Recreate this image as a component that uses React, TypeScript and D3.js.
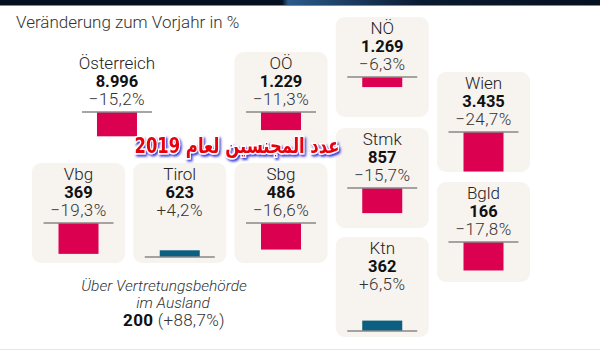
import { useEffect, useRef } from "react";
import * as d3 from "d3";

// Einbürgerungen 2019, nach Bundesland
const regions = ["Österreich", "OÖ", "NÖ", "Wien", "Stmk", "Bgld", "Vbg", "Tirol", "Sbg", "Ktn"];
const counts = [8996, 1229, 1269, 3435, 857, 166, 369, 623, 486, 362];
const changes = [-15.2, -11.3, -6.3, -24.7, -15.7, -17.8, -19.3, 4.2, -16.6, 6.5];

const abroadLabel = ["Über Vertretungsbehörde", "im Ausland"];
const abroadCount = 200;
const abroadChange = 88.7;

const title = "Veränderung zum Vorjahr in %";
const overlay = "عدد المجنسين لعام 2019";

// tile-map layout: column index and top of tile (px)
const layout: Record<string, { col: number; top: number; card: boolean }> = {
  "Österreich": { col: 0.38, top: 52, card: false },
  "OÖ": { col: 2, top: 52, card: true },
  "NÖ": { col: 3, top: 17, card: true },
  "Wien": { col: 4, top: 72, card: true },
  "Stmk": { col: 3, top: 128, card: true },
  "Bgld": { col: 4, top: 182, card: true },
  "Vbg": { col: 0, top: 163, card: true },
  "Tirol": { col: 1, top: 163, card: true },
  "Sbg": { col: 2, top: 163, card: true },
  "Ktn": { col: 3, top: 237, card: true },
};

const de = d3.formatLocale({ decimal: ",", thousands: ".", grouping: [3], currency: ["", " €"], minus: "\u2212" });
const fmtCount = de.format(",d");
const fmtPct = de.format("+.1f");

function App() {
  const ref = useRef<SVGSVGElement>(null);

  useEffect(() => {
    const width = 600;
    const height = 350;
    const cardW = 93;
    const cardH = 100;
    const font = "Roboto, 'Open Sans', sans-serif";

    const x = d3.scaleLinear().domain([0, 4]).range([32, 437]);
    const bar = d3.scaleLinear().domain([0, 25]).range([0, 40]);

    const svg = d3.select(ref.current);
    svg.selectAll("*").remove();
    svg.attr("width", width).attr("height", height).attr("viewBox", [0, 0, width, height]);

    svg.append("rect").attr("width", width).attr("height", height).attr("fill", "#fff");

    // top band
    const defs = svg.append("defs");
    const grad = defs.append("linearGradient").attr("id", "band");
    grad.append("stop").attr("offset", "0%").attr("stop-color", "#04101f");
    grad.append("stop").attr("offset", "47%").attr("stop-color", "#04101f");
    grad.append("stop").attr("offset", "48%").attr("stop-color", "#2a5a8c");
    grad.append("stop").attr("offset", "70%").attr("stop-color", "#0a1a30");
    grad.append("stop").attr("offset", "100%").attr("stop-color", "#04101f");
    svg.append("rect").attr("width", width).attr("height", 5).attr("fill", "url(#band)");
    svg.append("rect").attr("y", 5).attr("width", width).attr("height", 1).attr("fill", "#888");
    svg.append("rect").attr("y", 349).attr("width", width).attr("height", 1).attr("fill", "#e6e6e6");

    svg.append("text")
      .attr("x", 16).attr("y", 28)
      .attr("font-family", font).attr("font-size", 17).attr("font-weight", 300).attr("fill", "#333")
      .text(title);

    const data = regions.map((r, i) => ({ name: r, count: counts[i], change: changes[i], ...layout[r] }));

    const tiles = svg.append("g")
      .selectAll("g")
      .data(data)
      .join("g")
      .attr("transform", d => `translate(${x(d.col)},${d.top})`);

    tiles.filter(d => d.card)
      .append("rect")
      .attr("width", cardW).attr("height", cardH).attr("rx", 9)
      .attr("fill", "#f7f3ef");

    const cx = cardW / 2;
    tiles.append("text")
      .attr("x", cx).attr("y", 17).attr("text-anchor", "middle")
      .attr("font-family", font).attr("font-size", 17).attr("font-weight", 300).attr("fill", "#222")
      .text(d => d.name);
    tiles.append("text")
      .attr("x", cx).attr("y", 35).attr("text-anchor", "middle")
      .attr("font-family", font).attr("font-size", 16.5).attr("font-weight", 700).attr("fill", "#111")
      .text(d => fmtCount(d.count));
    tiles.append("text")
      .attr("x", cx).attr("y", 53).attr("text-anchor", "middle")
      .attr("font-family", font).attr("font-size", 17).attr("font-weight", 300).attr("fill", "#333")
      .attr("letter-spacing", 0.4)
      .text(d => fmtPct(d.change) + "%");

    const zeroY = (d: { change: number }) => (d.change < 0 ? 60 : 94);

    tiles.append("rect")
      .attr("x", cx - 20).attr("width", 40)
      .attr("y", d => (d.change < 0 ? zeroY(d) : zeroY(d) - bar(d.change)))
      .attr("height", d => bar(Math.abs(d.change)))
      .attr("fill", d => (d.change < 0 ? "#dc0050" : "#0b5f80"));

    tiles.append("line")
      .attr("x1", cx - 35).attr("x2", cx + 35)
      .attr("y1", zeroY).attr("y2", zeroY)
      .attr("stroke", "#888").attr("stroke-width", 1.5);

    // consulates abroad
    const ab = svg.append("g").attr("font-family", font).attr("text-anchor", "middle").attr("fill", "#333");
    ab.selectAll("text.lbl")
      .data(abroadLabel)
      .join("text")
      .attr("class", "lbl")
      .attr("x", (_, i) => (i === 0 ? 164 : 173)).attr("y", (_, i) => 291 + i * 17)
      .attr("font-size", 15.5).attr("font-style", "italic").attr("font-weight", 300)
      .text(d => d);
    const t = ab.append("text").attr("x", 174).attr("y", 326).attr("font-size", 17).attr("letter-spacing", 0.3);
    t.append("tspan").attr("font-weight", 700).attr("fill", "#111").text(fmtCount(abroadCount) + " ");
    t.append("tspan").attr("font-weight", 300).attr("fill", "#333").text(`(${fmtPct(abroadChange)}%)`);

    // overlay caption
    const f = defs.append("filter").attr("id", "shadow").attr("x", "-10%").attr("y", "-30%").attr("width", "120%").attr("height", "160%");
    f.append("feDropShadow").attr("dx", 1.5).attr("dy", 2).attr("stdDeviation", 1.2).attr("flood-color", "#3b3bd8");
    svg.append("text")
      .attr("x", 237).attr("y", 153).attr("text-anchor", "middle")
      .attr("font-family", "'DejaVu Sans', sans-serif").attr("font-size", 21).attr("font-weight", 700)
      .attr("textLength", 205).attr("lengthAdjust", "spacingAndGlyphs")
      .attr("fill", "#e8000b").attr("stroke", "#fff").attr("stroke-width", 3)
      .attr("paint-order", "stroke").attr("filter", "url(#shadow)")
      .text(overlay);
  }, []);

  return (
    <div style={{ position: "fixed", left: 0, top: 0 }}>
      <svg ref={ref} style={{ display: "block" }} />
    </div>
  );
}

export default App;
